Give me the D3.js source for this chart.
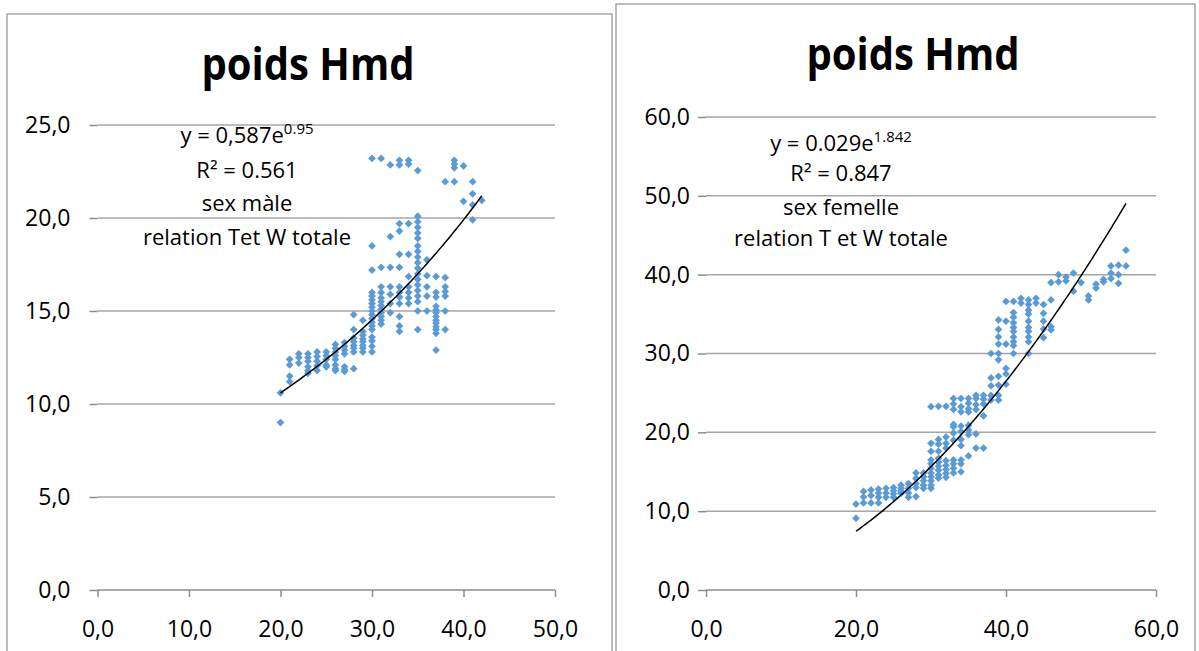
<!DOCTYPE html>
<html><head><meta charset="utf-8">
<script src="https://cdn.jsdelivr.net/npm/d3@7"></script>
<style>body{margin:0;background:#fff;} svg{display:block;font-family:"Open Sans",sans-serif;}</style>
</head><body><svg id="c" width="1199" height="651"></svg>
<script>
// ---- data (length x, weight y), grouped by length column ----
const maleColumns = [
 [20,[10.6,9.0]],
 [21,[12.4,12.1,11.5,11.2]],
 [22,[12.7,12.5,12.2]],
 [23,[12.7,12.5,12.3,12.0,11.8,11.65]],
 [24,[12.8,12.55,12.3,12.05,11.8]],
 [25,[12.8,12.6,12.4,12.1,12.0]],
 [26,[13.2,13.0,12.8,12.6,12.4,12.1,11.9,11.8]],
 [27,[13.3,13.1,12.9,12.7,12.0,11.85,11.75]],
 [28,[14.8,14.0,13.55,13.35,13.15,13.0,12.8,11.9]],
 [29,[14.5,13.9,13.7,13.5,13.35,13.15,13.0,12.8]],
 [30,[23.2,18.5,17.2,16.0,15.8,15.6,15.4,15.2,15.0,14.8,14.6,14.4,14.2,14.0,13.6,13.4,13.1,12.8]],
 [31,[23.2,17.35,16.3,16.0,15.7,15.5,15.3,15.1,14.9,14.7,14.5,14.3]],
 [32,[22.85,19.0,17.35,16.3,15.9,15.4,14.9]],
 [33,[23.1,22.85,19.7,19.3,18.05,17.35,16.3,16.0,15.75,15.4,14.7,14.2,13.9]],
 [34,[23.1,22.9,19.7,18.05,16.85,16.3,16.0,15.7,15.4]],
 [35,[22.55,20.1,19.8,19.5,19.2,18.9,18.5,18.2,17.9,17.6,17.3,17.0,16.7,16.4,16.1,15.8,15.5,15.0,14.0]],
 [36,[17.75,16.9,16.3,15.8,15.0]],
 [37,[16.85,16.0,15.75,15.25,15.05,14.9,14.7,14.5,14.35,14.15,14.0,13.8,12.9]],
 [38,[21.95,16.8,16.3,16.05,15.8,15.0,14.0]],
 [39,[23.1,22.9,22.7,21.95]],
 [40,[22.8,20.9]],
 [41,[21.95,21.3,20.7,19.9]],
 [42,[20.95]]
];
const femaleColumns = [
 [20,[10.9,9.1]],
 [21,[12.5,11.8,11.05]],
 [22,[12.7,12.0,11.05]],
 [23,[12.8,12.3,11.75,11.05]],
 [24,[12.9,12.3,11.75]],
 [25,[13.0,12.6,12.2,11.75]],
 [26,[13.3,12.9,12.5,12.25]],
 [27,[13.5,12.9,12.3,11.75]],
 [28,[14.85,14.15,13.5,13.0,11.85]],
 [29,[14.85,14.35,13.85,13.3,12.9]],
 [30,[23.25,18.6,17.6,16.5,16.0,15.45,14.85,14.35,13.85,13.3,12.9]],
 [31,[23.3,19.1,18.5,17.6,16.7,16.2,15.7,15.2,14.6,14.2]],
 [32,[23.3,19.4,18.6,18.0,16.4,15.8,15.3,14.8,14.3]],
 [33,[24.3,23.6,22.9,21.0,20.7,19.9,19.0,16.5,16.0,15.45,14.85]],
 [34,[24.3,23.25,22.6,20.8,20.1,19.1,18.3,16.5,16.0,15.0]],
 [35,[24.3,23.7,23.0,22.6,20.9,20.3,19.7,17.0]],
 [36,[24.7,24.3,23.5,22.9,19.8,18.0]],
 [37,[24.7,24.2,23.6,22.1,18.0]],
 [38,[30.0,26.9,25.9,24.7,24.1]],
 [39,[34.25,33.05,32.1,31.2,30.0,29.2,27.1,26.0,24.7,24.1]],
 [40,[36.6,34.1,31.2,28.1,27.4,26.1]],
 [41,[36.6,35.2,34.6,33.9,33.3,32.8,32.1,31.5,31.0,30.0]],
 [42,[37.0,36.4]],
 [43,[36.8,36.2,35.5,35.0,34.1,33.3,32.8,32.1,31.5,30.0]],
 [44,[37.0,36.4]],
 [45,[36.2,35.1,34.1,33.1,32.0]],
 [46,[39.0,36.8,33.4,33.0]],
 [47,[40.0,39.1]],
 [48,[39.7,39.2]],
 [49,[40.2,37.9]],
 [50,[39.0]],
 [51,[37.3,36.8]],
 [52,[38.8,38.3]],
 [53,[39.4,39.1]],
 [54,[41.1,40.2,39.5]],
 [55,[41.2,40.0,38.9]],
 [56,[43.1,41.1]]
];
const maleXTicks = [0,10,20,30,40,50];
const maleYTicks = [0,5,10,15,20,25];
const femaleXTicks = [0,20,40,60];
const femaleYTicks = [0,10,20,30,40,50,60];
const maleTrend = {type:"exp", a:5.645, b:0.0315, from:20, to:42};
const femaleTrend = {type:"pow", a:0.031, b:1.83, from:20, to:56};
const titles = ["poids Hmd","poids Hmd"];
const maleNotes = [["y = 0,587e","0.95"],["R² = 0.561"],["sex màle"],["relation Tet W totale"]];
const femaleNotes = [["y = 0.029e","1.842"],["R² = 0.847"],["sex femelle"],["relation T et W totale"]];

// ---- drawing ----
const svg = d3.select("#c");
const fmt = v => d3.format(".1f")(v).replace(".", ",");

function drawChart(cfg){
  const g = svg.append("g");
  g.append("rect").attr("x",cfg.panel[0]).attr("y",cfg.panel[1])
    .attr("width",cfg.panel[2]).attr("height",cfg.panel[3])
    .attr("fill","#fff").attr("stroke","#a6a6a6").attr("stroke-width",1.5);
  const x = d3.scaleLinear().domain(cfg.xDomain).range(cfg.xRange);
  const y = d3.scaleLinear().domain(cfg.yDomain).range(cfg.yRange);
  // gridlines
  g.append("g").selectAll("line").data(cfg.yTicks.filter(t=>t>0)).join("line")
    .attr("x1",cfg.xRange[0]).attr("x2",cfg.xRange[1])
    .attr("y1",d=>y(d)).attr("y2",d=>y(d))
    .attr("stroke","#a6a6a6").attr("stroke-width",1.5);
  // y axis (ticks only, no line)
  const ya = d3.axisLeft(y).tickValues(cfg.yTicks).tickFormat(fmt).tickSize(8).tickPadding(cfg.yPad);
  const yg = g.append("g").attr("transform",`translate(${cfg.xRange[0]},0)`).call(ya);
  yg.select(".domain").remove();
  // x axis
  const xa = d3.axisBottom(x).tickValues(cfg.xTicks).tickFormat(fmt).tickSize(7).tickPadding(24);
  const xg = g.append("g").attr("transform",`translate(0,${cfg.yRange[0]})`).call(xa);
  [yg,xg].forEach(a=>{
    a.selectAll(".tick line").attr("stroke","#8c8c8c").attr("stroke-width",1.5);
    a.selectAll("text").attr("font-size",23).attr("fill","#000").attr("font-family","Open Sans");
  });
  xg.select(".domain").attr("stroke","#8c8c8c").attr("stroke-width",1.5)
    .attr("d",`M${cfg.xRange[0]},0H${cfg.xRange[1]}`);
  // points
  const pts = cfg.cols.flatMap(([lx,ws])=>ws.map(w=>[lx,w]));
  const sym = d3.symbol(d3.symbolSquare, 30)();
  g.append("g").selectAll("path").data(pts).join("path")
    .attr("d",sym)
    .attr("transform",d=>`translate(${x(d[0])},${y(d[1])}) rotate(45)`)
    .attr("fill","#5b9bd5");
  // trend line
  const t = cfg.trend;
  const f = t.type==="exp" ? (v=>t.a*Math.exp(t.b*v)) : (v=>t.a*Math.pow(v,t.b));
  const tx = d3.range(t.from, t.to+0.001, 0.25);
  g.append("path").datum(tx)
    .attr("d",d3.line().x(v=>x(v)).y(v=>y(f(v))))
    .attr("fill","none").attr("stroke","#000").attr("stroke-width",1.5);
  // title
  g.append("text").attr("x",cfg.title[0]).attr("y",cfg.title[1])
    .attr("text-anchor","middle").attr("font-size",44).attr("font-weight","bold")
    .attr("textLength",213).attr("lengthAdjust","spacingAndGlyphs")
    .text(cfg.titleText);
  // notes
  cfg.notes.forEach((n,i)=>{
    const tt = g.append("text").attr("x",cfg.noteX).attr("y",cfg.noteY[i])
      .attr("text-anchor","middle").attr("font-size",22).attr("fill","#000");
    tt.append("tspan").text(n[0]);
    if(n[1]) tt.append("tspan").attr("dy",-9).attr("font-size",15).text(n[1]);
  });
}

drawChart({
  panel:[7,14,605,700], xDomain:[0,50], xRange:[97.5,555], yDomain:[0,25], yRange:[590,125],
  xTicks:maleXTicks, yTicks:maleYTicks, cols:maleColumns, trend:maleTrend,
  title:[308,80], titleText:titles[0], yPad:19,
  notes:maleNotes, noteX:247, noteY:[143,178,211,245]
});
drawChart({
  panel:[616,4,579,700], xDomain:[0,60], xRange:[706,1156], yDomain:[0,60], yRange:[590,117],
  xTicks:femaleXTicks, yTicks:femaleYTicks, cols:femaleColumns, trend:femaleTrend,
  title:[913,70], titleText:titles[1], yPad:8,
  notes:femaleNotes, noteX:841, noteY:[151,181,215,246]
});
</script></body></html>
